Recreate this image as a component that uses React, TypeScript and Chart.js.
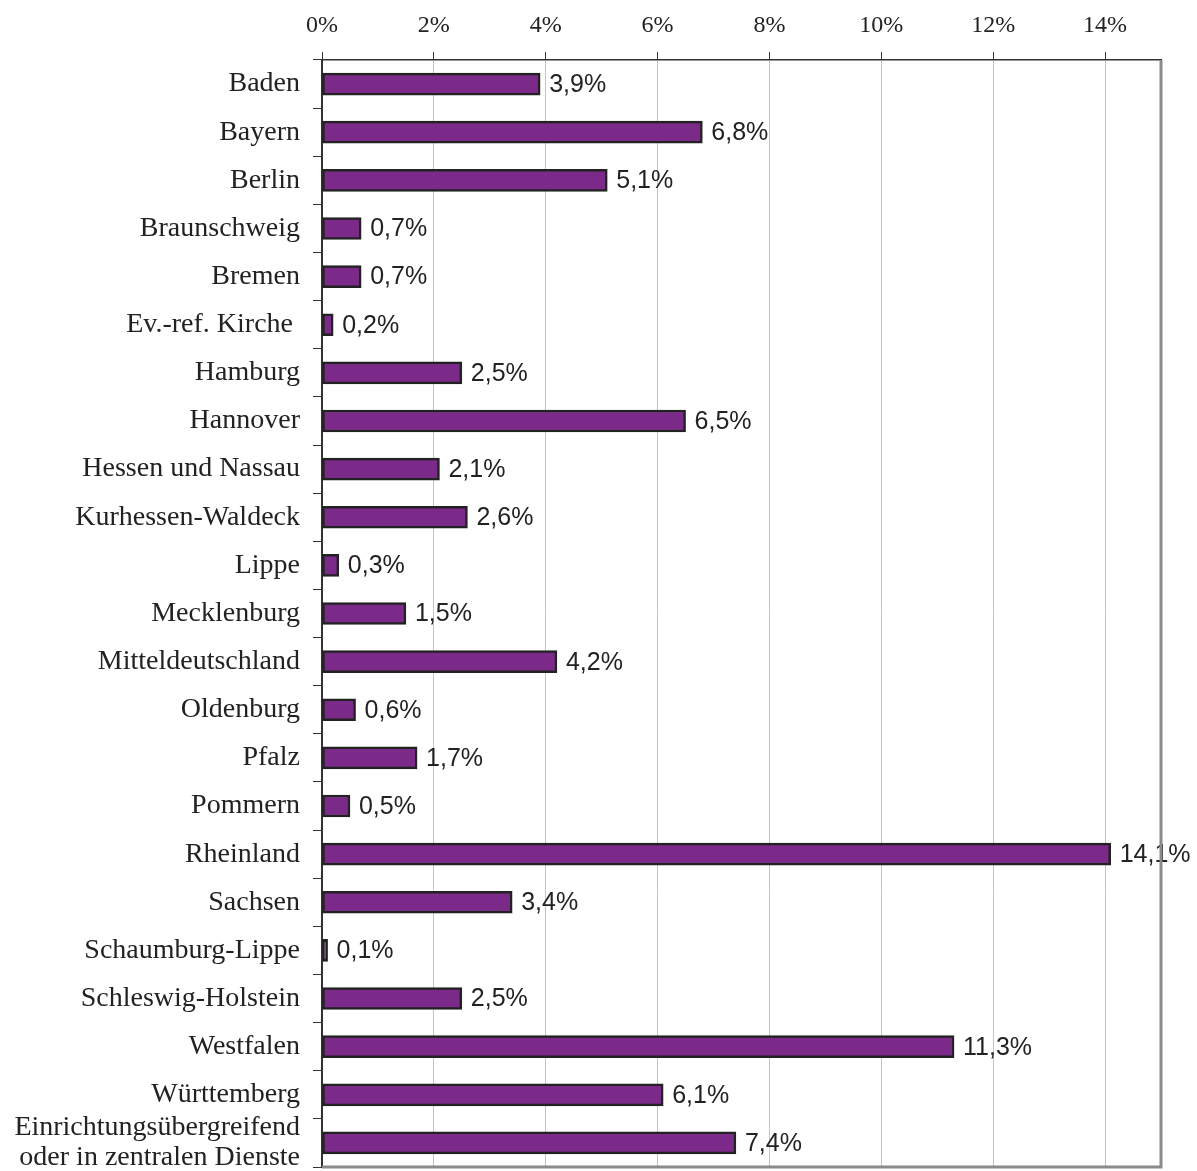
import React, { useEffect, useRef } from "react";
import { Chart, registerables } from "chart.js";

Chart.register(...registerables);

const categories: (string | string[])[] = [
  "Baden",
  "Bayern",
  "Berlin",
  "Braunschweig",
  "Bremen",
  "Ev.-ref. Kirche ",
  "Hamburg",
  "Hannover",
  "Hessen und Nassau",
  "Kurhessen-Waldeck",
  "Lippe",
  "Mecklenburg",
  "Mitteldeutschland",
  "Oldenburg",
  "Pfalz",
  "Pommern",
  "Rheinland",
  "Sachsen",
  "Schaumburg-Lippe",
  "Schleswig-Holstein",
  "Westfalen",
  "Württemberg",
  ["Einrichtungsübergreifend", "oder in zentralen Dienste"],
];

const shares: number[] = [
  3.9, 6.8, 5.1, 0.7, 0.7, 0.2, 2.5, 6.5, 2.1, 2.6, 0.3, 1.5, 4.2, 0.6, 1.7, 0.5,
  14.1, 3.4, 0.1, 2.5, 11.3, 6.1, 7.4,
];

const xTickValues: number[] = [0, 2, 4, 6, 8, 10, 12, 14];

const fmt = (v: number) => v.toFixed(1).replace(".", ",") + "%";

const frameAndLabels = {
  id: "frameAndLabels",
  afterDatasetsDraw(chart: any) {
    const { ctx } = chart;
    const meta = chart.getDatasetMeta(0);
    ctx.save();
    ctx.font = "25px 'Liberation Sans', Arial, sans-serif";
    ctx.fillStyle = "#222";
    ctx.textAlign = "left";
    ctx.textBaseline = "middle";
    meta.data.forEach((bar: any, i: number) => {
      ctx.fillText(fmt(shares[i]), bar.x + 9, bar.y + 1);
    });
    ctx.restore();
  },
  afterDraw(chart: any) {
    const { ctx, chartArea } = chart;
    ctx.save();
    ctx.strokeStyle = "#8a8a8a";
    ctx.lineWidth = 3;
    ctx.beginPath();
    ctx.moveTo(chartArea.right, chartArea.top);
    ctx.lineTo(chartArea.right, chartArea.bottom);
    ctx.lineTo(chartArea.left, chartArea.bottom);
    ctx.stroke();
    ctx.restore();
  },
};

export default function App() {
  const ref = useRef<HTMLCanvasElement | null>(null);
  useEffect(() => {
    if (!ref.current) return;
    const chart = new Chart(ref.current, {
      type: "bar",
      data: {
        labels: categories,
        datasets: [
          {
            data: shares,
            backgroundColor: "#7b2a8a",
            borderColor: "#222222",
            borderWidth: 2.5,
            borderSkipped: false,
            barThickness: 22,
          },
        ],
      },
      options: {
        indexAxis: "y",
        animation: false,
        responsive: true,
        maintainAspectRatio: false,
        layout: { padding: { left: 0, right: 36, top: 0, bottom: 4 } },
        plugins: { legend: { display: false }, tooltip: { enabled: false } },
        scales: {
          x: {
            position: "top",
            min: 0,
            max: 15,
            afterBuildTicks: (scale: any) => {
              scale.ticks = xTickValues.map((v) => ({ value: v }));
            },
            afterFit: (scale: any) => {
              scale.height = 60;
              scale.paddingLeft = 0;
              scale.paddingRight = 0;
            },
            ticks: {
              callback: (v: any) => v + "%",
              color: "#222",
              font: { family: "'Liberation Serif', 'Times New Roman', serif", size: 24 },
              padding: 12,
              maxRotation: 0,
            },
            grid: {
              color: "#c4c4c4",
              lineWidth: 1,
              tickLength: 8,
              tickColor: "#333",
            },
            border: { color: "#333", width: 1.5 },
          },
          y: {
            afterFit: (scale: any) => {
              scale.width = 322;
              scale.paddingTop = 0;
              scale.paddingBottom = 0;
            },
            ticks: {
              color: "#222",
              font: { family: "'Liberation Serif', 'Times New Roman', serif", size: 28, lineHeight: 1.07 },
              padding: 13,
              autoSkip: false,
            },
            grid: {
              offset: true,
              drawOnChartArea: false,
              tickLength: 9,
              tickColor: "#333",
            },
            border: { color: "#333", width: 2 },
          },
        },
      },
      plugins: [frameAndLabels],
    });
    return () => chart.destroy();
  }, []);
  return (
    <div style={{ position: "absolute", left: 0, top: 0, width: 1197, height: 1171, background: "#fff" }}>
      <canvas ref={ref} />
    </div>
  );
}
